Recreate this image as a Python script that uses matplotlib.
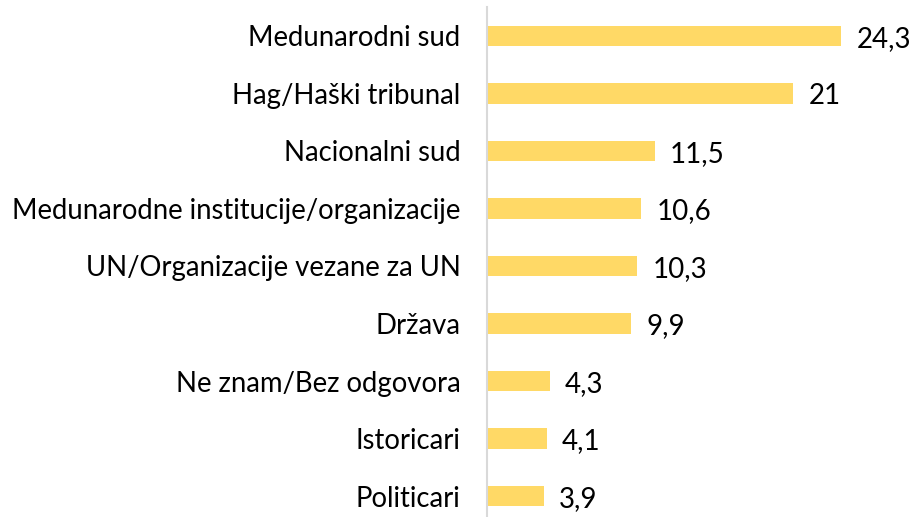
import matplotlib
matplotlib.use('Agg')
import matplotlib.pyplot as plt

## podaci
categories = ['Medunarodni sud', 'Hag/Haški tribunal', 'Nacionalni sud',
              'Medunarodne institucije/organizacije', 'UN/Organizacije vezane za UN',
              'Država', 'Ne znam/Bez odgovora', 'Istoricari', 'Politicari']
values = [24.3, 21, 11.5, 10.6, 10.3, 9.9, 4.3, 4.1, 3.9]
value_labels = ['24,3', '21', '11,5', '10,6', '10,3', '9,9', '4,3', '4,1', '3,9']

plt.rcParams['font.family'] = ['Lato', 'DejaVu Sans']

fig = plt.figure(figsize=(9.15, 5.17), dpi=100)
ax = fig.add_axes([0.532, 0.0, 0.448, 1 - 7 / 517])

y = list(range(len(categories)))
ax.barh(y, values, height=0.35, color='#FFD966')

# oznake vrijednosti
for yi, v, lab in zip(y, values, value_labels):
    ax.text(v + 1.05, yi + 0.05, lab, va='center', ha='left', fontsize=20, color='black')

ax.set_yticks(y)
ax.set_yticklabels(categories, fontsize=19.8)
ax.tick_params(axis='y', length=0, pad=19)
ax.set_xticks([])
ax.set_xlim(0, 28.1)
ax.set_ylim(8.365, -0.504)

for s in ['top', 'right', 'bottom']:
    ax.spines[s].set_visible(False)
ax.spines['left'].set_color('#D9D9D9')
ax.spines['left'].set_linewidth(1.5)

fig.savefig('out.png', dpi=100)
